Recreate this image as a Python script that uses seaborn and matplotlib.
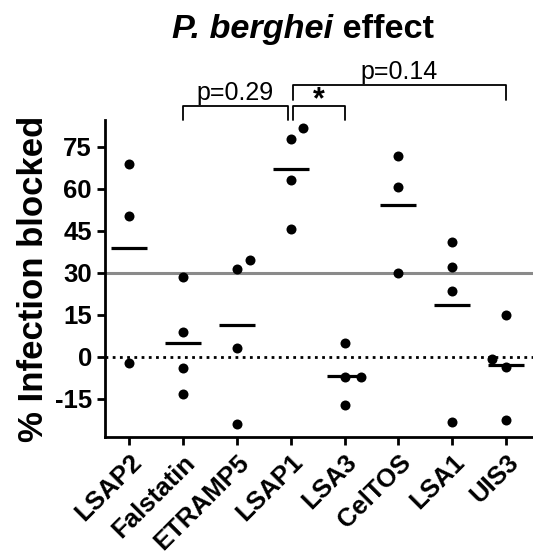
import matplotlib
matplotlib.use('Agg')
import matplotlib.pyplot as plt
import numpy as np
import pandas as pd
import seaborn as sns

sns.set_theme()
sns.set_style("ticks")
plt.rcParams['font.family'] = ['Liberation Sans', 'DejaVu Sans']
plt.rcParams['axes.unicode_minus'] = False
for key in ['text.color', 'axes.labelcolor', 'xtick.color', 'ytick.color']:
    plt.rcParams[key] = 'black'

antigens = ['LSAP2', 'Falstatin', 'ETRAMP5', 'LSAP1', 'LSA3', 'CelTOS', 'LSA1', 'UIS3']
lsap2 = [68.8, 50.4, -2.1]
falstatin = [28.7, 9.0, -4.0, -13.3]
etramp5 = [31.3, 34.6, 3.1, -24.0]
lsap1 = [78.0, 81.7, 63.2, 45.6]
lsa3 = [5.1, -7.3, -7.3, -17.1]
celtos = [71.8, 60.7, 29.9]
lsa1 = [41.2, 32.1, 23.6, -23.2]
uis3 = [15.1, -0.9, -3.5, -22.6]
yticks = [-15, 0, 15, 30, 45, 60, 75]
threshold = 30
# (left group, right group, label, bracket top, leg bottom)
comparisons = [('Falstatin', 'LSAP1', 'p=0.29', 89.6, 84.6),
               ('LSAP1', 'LSA3', '*', 89.6, 84.6),
               ('LSAP1', 'UIS3', 'p=0.14', 97.1, 91.8)]

series = [lsap2, falstatin, etramp5, lsap1, lsa3, celtos, lsa1, uis3]
df = pd.DataFrame({'antigen': np.repeat(antigens, [len(s) for s in series]),
                   'value': np.concatenate(series)})

fig = plt.figure(figsize=(5.33, 5.53), dpi=100)
ax = fig.add_axes([0.197, 0.2098, 0.803, 0.573])

ax.axhline(threshold, color='#8a8a8a', linewidth=2.2, zorder=1)
ax.axhline(0, color='black', linestyle=(0, (1, 1.6)), linewidth=2, zorder=1)

# lay the swarm out with wide spacing (like Prism), then shrink the dots
sns.swarmplot(data=df, x='antigen', y='value', order=antigens, color='black',
              size=11, ax=ax, zorder=3)
sns.pointplot(data=df, x='antigen', y='value', order=antigens, estimator='mean',
              errorbar=None, color='black', marker='_', markersize=26,
              markeredgewidth=2.3, linestyle='none', ax=ax, zorder=4)

ax.set_xlim(-0.45, 7.5)
ax.set_ylim(-28.6, 84.6)
ax.set_yticks(yticks)
ax.set_xlabel('')
ax.set_ylabel('% Infection blocked', fontsize=25, fontweight='bold', labelpad=3)
ax.tick_params(axis='both', width=2, length=6, color='black', labelsize=18.5)
for lab in ax.get_yticklabels():
    lab.set_fontweight('bold')
ax.set_xticks(range(len(antigens)))
ax.set_xticklabels(antigens, rotation=45, ha='right', rotation_mode='anchor',
                   fontweight='bold', fontsize=18.5)
for side in ['top', 'right']:
    ax.spines[side].set_visible(False)
for side in ['left', 'bottom']:
    ax.spines[side].set_linewidth(2)
    ax.spines[side].set_color('black')

# significance brackets
for left, right, label, top, leg in comparisons:
    x0 = antigens.index(left)
    x1 = antigens.index(right)
    x0 = x0 + 0.04 if left == 'LSAP1' else x0
    x1 = x1 - 0.06 if right == 'LSAP1' else x1
    ax.plot([x0, x0, x1, x1], [leg, top, top, leg], color='black', linewidth=1.3,
            clip_on=False)
    if label == '*':
        ax.text((x0 + x1) / 2, top - 3.2, label, ha='center', va='bottom',
                fontsize=22, fontweight='bold', clip_on=False)
    else:
        ax.text((x0 + x1) / 2, top + 0.3, label, ha='center', va='bottom',
                fontsize=18, clip_on=False)

fig.text(0.625, 0.931, 'P. berghei', ha='right', va='baseline',
         fontsize=24.7, fontweight='bold', fontstyle='italic')
fig.text(0.625, 0.931, ' effect', ha='left', va='baseline',
         fontsize=24.7, fontweight='bold')

# freeze the swarm layout, mirror it to the right side and shrink the dots
fig.canvas.draw()
for coll in ax.collections:
    if 'draw' in coll.__dict__:
        del coll.draw
        offs = coll.get_offsets().copy()
        center = np.round(np.median(offs[:, 0]))
        offs[:, 0] = 2 * center - offs[:, 0]
        coll.set_offsets(offs)
        coll.set_sizes([7.2 ** 2])

fig.savefig('out.png', dpi=100)
